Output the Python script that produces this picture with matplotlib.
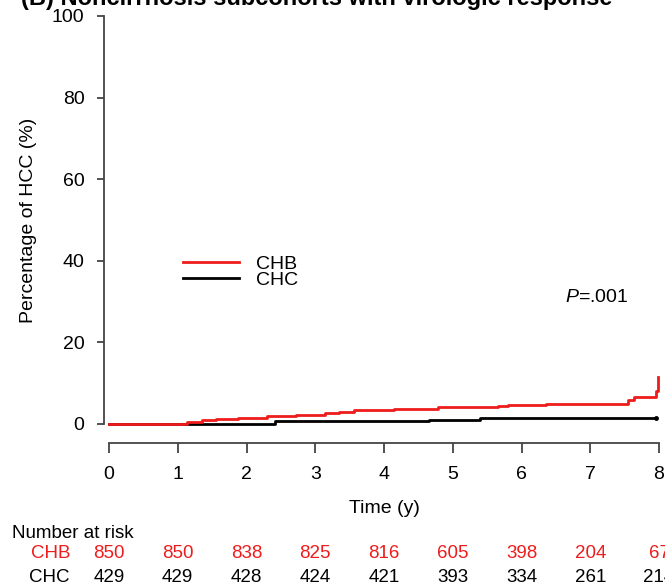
import matplotlib
matplotlib.use("Agg")
import matplotlib.pyplot as plt
import matplotlib.transforms as mtransforms

plt.rcParams["font.family"] = ["Liberation Sans", "DejaVu Sans"]
plt.rcParams["mathtext.fontset"] = "custom"
plt.rcParams["mathtext.rm"] = "Liberation Sans"
plt.rcParams["mathtext.it"] = "Liberation Sans:italic"

TITLE = "(B) Noncirrhosis subcohorts with virologic response"

# cumulative incidence, step curves (years, %)
chb_time = [0, 1.14, 1.35, 1.56, 1.88, 2.30, 2.72, 3.14, 3.35, 3.56, 4.14,
            4.79, 5.66, 5.80, 6.35, 7.55, 7.63, 7.95, 7.98]
chb_pct = [0, 0.5, 0.9, 1.15, 1.4, 1.85, 2.2, 2.65, 3.0, 3.35, 3.7,
           4.05, 4.4, 4.7, 4.95, 6.0, 6.6, 8.0, 11.6]
chc_time = [0, 2.41, 4.66, 5.39, 7.95]
chc_pct = [0, 0.7, 1.05, 1.5, 1.5]

risk_times = [0, 1, 2, 3, 4, 5, 6, 7, 8]
chb_risk = [850, 850, 838, 825, 816, 605, 398, 204, 67]
chc_risk = [429, 429, 428, 424, 421, 393, 334, 261, 214]

RED = "#ee1c1c"
FS = 14
FS_TAB = 13.5

fig = plt.figure(figsize=(6.65, 5.86), dpi=100)
W, H = 665, 586
# data area: x 0..8 -> px 109..659 ; y 0..100 -> px 424..16
ax = fig.add_axes([109 / W, (H - 424) / H, 550 / W, 408 / H])
ax.set_xlim(0, 8)
ax.set_ylim(0, 100)

ax.step(chb_time, chb_pct, where="post", color=RED, lw=2.0, label="CHB",
        clip_on=False, zorder=3)
ax.step(chc_time, chc_pct, where="post", color="black", lw=2.0, label="CHC",
        clip_on=False, zorder=2)
ax.plot(chc_time[-1:], chc_pct[-1:], "o", color="black", ms=2.5, clip_on=False)

# R-style detached axes
for s in ["top", "right"]:
    ax.spines[s].set_visible(False)
ax.spines["left"].set_position(("outward", 3.6))
ax.spines["bottom"].set_position(("outward", 13.7))
ax.spines["left"].set_bounds(0, 100)
ax.spines["bottom"].set_bounds(0, 8)
for s in ["left", "bottom"]:
    ax.spines[s].set_color("#444444")
    ax.spines[s].set_linewidth(1.3)

ax.set_xticks(range(0, 9))
ax.set_yticks(range(0, 101, 20))
ax.tick_params(axis="x", length=7, width=1.3, color="#444444", pad=9.5, labelsize=FS)
ax.tick_params(axis="y", length=5, width=1.3, color="#444444", pad=9, labelsize=FS)

ax.set_xlabel("Time (y)", fontsize=FS, labelpad=12)
ax.set_ylabel("Percentage of HCC (%)", fontsize=FS, labelpad=11)

leg = ax.legend(frameon=False, fontsize=FS, loc="upper left",
                bbox_to_anchor=(0.134, 0.413), handlelength=2.9,
                handletextpad=0.85, labelspacing=-0.1, borderpad=0,
                borderaxespad=0)

ax.text(6.63, 31, "$P$=.001", fontsize=FS, va="center", ha="left")

# title is partly cut off at the top edge, as in the source figure
fig.text(21 / W, 1 - 5 / H, TITLE, fontsize=17, fontweight="bold",
         va="baseline", ha="left")

# number at risk table
trans = mtransforms.blended_transform_factory(ax.transData, fig.transFigure)
fig.text(12 / W, 1 - 533 / H, "Number at risk", fontsize=FS_TAB, va="center")
fig.text(70 / W, 1 - 554 / H, "CHB", fontsize=FS_TAB, va="center", ha="right", color=RED)
fig.text(70 / W, 1 - 577 / H, "CHC", fontsize=FS_TAB, va="center", ha="right", color="black")
for t, b, c in zip(risk_times, chb_risk, chc_risk):
    ax.text(t, 1 - 554 / H, str(b), transform=trans, fontsize=FS_TAB,
            ha="center", va="center", color=RED, clip_on=False)
    ax.text(t, 1 - 577 / H, str(c), transform=trans, fontsize=FS_TAB,
            ha="center", va="center", color="black", clip_on=False)

fig.savefig("out.png", dpi=100)
